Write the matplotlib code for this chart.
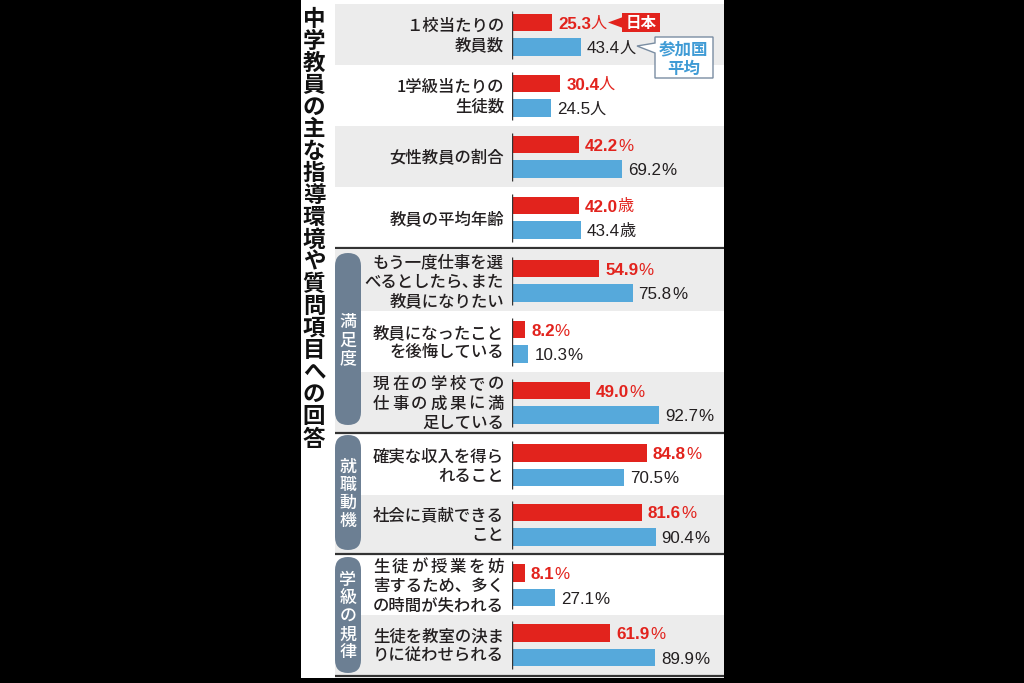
import matplotlib
matplotlib.use("Agg")
import matplotlib.pyplot as plt
from matplotlib.patches import Rectangle, FancyBboxPatch, Polygon

# ---------------- data ----------------
title = "中学教員の主な指導環境や質問項目への回答"
labels = [
    ["１校当たりの", "教員数"],
    ["1学級当たりの", "生徒数"],
    ["女性教員の割合"],
    ["教員の平均年齢"],
    ["もう一度仕事を選", "べるとしたら､また", "教員になりたい"],
    ["教員になったこと", "を後悔している"],
    ["現在の学校での", "仕事の成果に満", "足している"],
    ["確実な収入を得ら", "れること"],
    ["社会に貢献できる", "こと"],
    ["生徒が授業を妨", "害するため、多く", "の時間が失われる"],
    ["生徒を教室の決ま", "りに従わせられる"],
]
spread_lines = {6: [0, 1], 9: [0]}
japan = [25.3, 30.4, 42.2, 42.0, 54.9, 8.2, 49.0, 84.8, 81.6, 8.1, 61.9]
average = [43.4, 24.5, 69.2, 43.4, 75.8, 10.3, 92.7, 70.5, 90.4, 27.1, 89.9]
units = ["人", "人", "%", "歳", "%", "%", "%", "%", "%", "%", "%"]
groups = ["満足度", "就職動機", "学級の規律"]
legend_japan = "日本"
legend_avg = ["参加国", "平均"]

# ---------------- style / layout ----------------
W, H = 1024, 683
RED = "#E2231D"
BLUE = "#56A9DB"
BAND = "#ECECEC"
PILL = "#6C7F93"
TXT = "#231F20"
LINE = "#333333"
JP = ["Noto Sans CJK JP"]
NUM = ["Liberation Sans"]
PX_PER_UNIT = 1.59
X0 = 512           # bar baseline (px)
XR = 724           # right edge of panel (px)
LBL_R = 504        # right edge of category labels
EM = 16.4          # label em size (px)
pt = lambda px: px * 72 / 100

# sections: (top, row height, n rows)
sections = [(4, 61, 4), (250, 61, 3), (435, 59.5, 2), (555, 60, 2)]
sep_lines = [248, 433, 554, 676]
pills = [(253, 425), (435, 550), (557, 673)]

row_tops, row_h = [], []
for top, h, n in sections:
    for k in range(n):
        row_tops.append(top + k * h)
        row_h.append(h)
centers = [t + h / 2 for t, h in zip(row_tops, row_h)]

fig = plt.figure(figsize=(W / 100, H / 100), dpi=100, facecolor="black")
bg = fig.add_axes([0, 0, 1, 1])
bg.set_xlim(0, W)
bg.set_ylim(H, 0)
bg.axis("off")
bg.set_facecolor("black")

# white panel
bg.add_patch(Rectangle((301, 0), XR - 301, 678, fc="white", ec="none", zorder=0))

# row bands
for i, (t, h) in enumerate(zip(row_tops, row_h)):
    if i % 2 == 0:
        bg.add_patch(Rectangle((335, t), XR - 335, h, fc=BAND, ec="none", zorder=1))

# separator lines
for y in sep_lines:
    bg.plot([335, XR], [y, y], color=LINE, lw=1.6, zorder=3, solid_capstyle="butt")

# vertical title
tstep = (437 - 17) / (len(title) - 1)
for k, ch in enumerate(title):
    yc = 17 + k * tstep
    bg.text(314, yc + 0.38 * 22.5, ch, fontsize=pt(22.5), fontweight="bold", family=JP,
            ha="center", va="baseline", color="#111111", zorder=4)

# pills
for (y1, y2), name in zip(pills, groups):
    bg.add_patch(FancyBboxPatch((335, y1), 26, y2 - y1,
                                boxstyle="round,pad=0,rounding_size=13",
                                fc=PILL, ec="none", zorder=4))
    yc = (y1 + y2) / 2
    step = 18
    n = len(name)
    for k, ch in enumerate(name):
        y = yc + (k - (n - 1) / 2) * step
        bg.text(348, y + 0.38 * 17, ch, fontsize=pt(17), fontweight="medium", family=JP,
                color="white", ha="center", va="baseline", zorder=5)

# category labels
LS = 19.5
for i, lines in enumerate(labels):
    c = centers[i]
    k = len(lines)
    for j, line in enumerate(lines):
        yc = c + (j - (k - 1) / 2) * LS
        yb = yc + 0.38 * EM
        if j in spread_lines.get(i, []):
            n = len(line)
            width = 8 * EM
            left = LBL_R - width
            spacing = (width - EM) / (n - 1)
            for q, ch in enumerate(line):
                bg.text(left + EM / 2 + q * spacing, yb, ch, fontsize=pt(EM), family=JP,
                        fontweight="medium", color=TXT, ha="center", va="baseline", zorder=4)
        else:
            bg.text(LBL_R, yb, line, fontsize=pt(EM), family=JP, color=TXT,
                    fontweight="medium", ha="right", va="baseline", zorder=4)

# ---------------- bars ----------------
ax = fig.add_axes([X0 / W, 0, (XR - X0) / W, 1], zorder=2)
ax.set_xlim(0, (XR - X0) / PX_PER_UNIT)
ax.set_ylim(H, 0)
ax.axis("off")
ax.patch.set_alpha(0)

red_y = [c - 12 for c in centers]
blue_y = [c + 12.5 for c in centers]
BH = 17.5
ax.barh(red_y, japan, height=BH, color=RED, zorder=2)
ax.barh(blue_y, average, height=BH, color=BLUE, zorder=2)
for ry, by in zip(red_y, blue_y):
    ax.plot([0, 0], [ry - BH / 2 - 3, by + BH / 2 + 3], color=LINE, lw=1.0, zorder=3,
            solid_capstyle="butt")

VFS = 17
BASE_OFF = -pt(0.36 * VFS)
DESC = pt(0.212 * VFS)   # descent of the number text box (points)


def value_label(v, y, u, color, weight):
    num = ax.annotate(f"{v:.1f}", xy=(v, y), xytext=(4.3, BASE_OFF),
                      textcoords="offset points", ha="left", va="baseline",
                      fontsize=pt(VFS), fontweight=weight, color=color, family=NUM, zorder=4)
    if u == "%":
        ax.annotate(u, xy=(1, 0), xycoords=num, xytext=(0.2, 0), textcoords="offset points",
                    ha="left", va="bottom", fontsize=pt(VFS), color=color,
                    family=NUM, zorder=4)
    else:
        # CJK unit on the same baseline as the digits
        ax.annotate(u, xy=(1, 0), xycoords=num, xytext=(-0.6, DESC),
                    textcoords="offset points", ha="left", va="baseline",
                    fontsize=pt(VFS * 0.95), color=color, family=JP, zorder=4)


for v, y, u in zip(japan, red_y, units):
    value_label(v, y, u, RED, "bold")
for v, y, u in zip(average, blue_y, units):
    value_label(v, y, u, TXT, "normal")

# ---------------- legend callouts ----------------
bg.add_patch(Polygon([(608, 22.5), (623, 17), (623, 28)], closed=True, fc=RED, ec="none", zorder=6))
bg.add_patch(Rectangle((622, 13), 38, 19, fc=RED, ec="none", zorder=6))
bg.text(641, 22.5 + 0.38 * 15.5, legend_japan, fontsize=pt(15.5), fontweight="bold", family=JP,
        color="white", ha="center", va="baseline", zorder=7)

bg.add_patch(Polygon([(655, 37), (713, 37), (713, 78), (655, 78), (655, 53),
                      (637, 46), (655, 43)], closed=True, fc="white", ec="#7A8DA2",
                     lw=1.0, zorder=6))
for j, line in enumerate(legend_avg):
    yc = 48 + j * 20
    bg.text(684, yc + 0.38 * 16.5, line, fontsize=pt(16.5), fontweight="bold", family=JP,
            color="#3F9BD5", ha="center", va="baseline", zorder=7)

fig.savefig("out.png", dpi=100, facecolor="black")
